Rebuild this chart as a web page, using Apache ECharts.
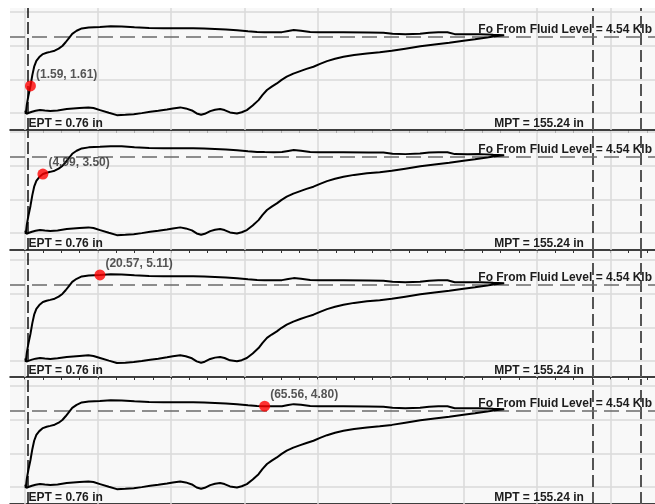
<!DOCTYPE html>
<html>
<head>
<meta charset="utf-8">
<script src="https://cdn.jsdelivr.net/npm/echarts@6/dist/echarts.min.js"></script>
<style>
  html, body { margin: 0; padding: 0; background: #ffffff; }
  #chart { width: 655px; height: 504px; }
</style>
</head>
<body>
<div id="chart"></div>
<script>
// Pump card: plunger position (in) vs. load (Klb), the same stroke in four frames.

// Upstroke, left to right
const upPosition = [0.3, 0.6, 1.0, 1.59, 2.1, 2.6, 3.2, 4.0, 4.99, 6.0, 7.0, 8.2, 9.3, 10.3, 11.2, 12.1, 13.0, 14.2, 15.6, 17.5,
  20.57, 23.5, 26.5, 30.0, 34.0, 38.0, 42.0, 46.0, 49.0, 52.0, 55.0, 58.0, 61.0, 63.5, 65.56, 68.0, 70.3, 72.0, 73.5, 75.5,
  78.0, 80.5, 87.0, 94.0, 98.0, 100.5, 104.0, 108.0, 110.5, 113.0, 115.5, 117.5, 121.0, 124.5, 128.0, 131.0];
const upLoad = [-0.05, 0.5, 1.0, 1.61, 2.25, 2.75, 3.1, 3.32, 3.50, 3.58, 3.63, 3.70, 3.82, 3.98, 4.20, 4.45, 4.70, 4.88, 5.02, 5.08,
  5.11, 5.15, 5.14, 5.09, 5.05, 5.03, 5.03, 5.03, 5.02, 4.99, 4.96, 4.91, 4.85, 4.81, 4.80, 4.79, 4.80, 4.87, 4.92, 4.88,
  4.81, 4.79, 4.79, 4.78, 4.77, 4.70, 4.68, 4.71, 4.77, 4.79, 4.79, 4.68, 4.67, 4.68, 4.64, 4.62];

// Downstroke, right to left
const downPosition = [131.0, 128.5, 126.3, 123.0, 119.9, 116.0, 112.0, 108.1, 104.0, 100.3, 97.0, 93.5, 90.0, 87.1, 84.8,
  82.6, 80.7, 78.9, 77.0, 75.3, 73.4, 71.6, 70.2, 68.9, 67.5, 66.2, 65.0, 63.9, 62.3, 60.7, 59.3, 58.0, 56.1, 54.6, 53.4, 52.0,
  50.7, 49.2, 48.2, 47.0, 45.7, 44.0, 42.5, 40.5, 38.9, 36.5, 34.3, 32.0, 29.8, 27.5, 25.2, 23.0, 20.6, 18.8, 17.4, 15.0, 11.5,
  9.0, 7.0, 5.5, 4.2, 3.0, 2.0, 1.2, 0.5, 0.2, 0.3];
const downLoad = [4.62, 4.55, 4.48, 4.38, 4.29, 4.17, 4.07, 3.96, 3.82, 3.69, 3.61, 3.54, 3.45, 3.34, 3.22,
  3.08, 2.92, 2.75, 2.62, 2.49, 2.34, 2.16, 1.97, 1.76, 1.57, 1.37, 1.08, 0.77, 0.45, 0.18, 0.05, -0.02, 0.04, 0.18, 0.24, 0.20,
  0.12, -0.04, -0.10, -0.02, 0.16, 0.28, 0.34, 0.28, 0.22, 0.14, 0.08, 0.00, -0.06, -0.10, -0.12, 0.02, 0.18, 0.30, 0.34, 0.30, 0.24,
  0.16, 0.12, 0.15, 0.18, 0.14, 0.08, 0.02, -0.04, 0.15, -0.05];

// Highlighted point in each frame
const markerPosition = [1.59, 4.99, 20.57, 65.56];
const markerLoad = [1.61, 3.50, 5.11, 4.80];

// Reference values
const foFluidLevel = 4.54;   // Klb
const eptPosition = 0.76;    // in
const mptPosition = 155.24;  // in
const strokeLimit = 168.2;   // in

// Grid and tick values
const positionGridLines = [0, 20, 40, 60, 80, 100, 120, 140, 160];
const loadGridLines = [0, 2, 4, 6];
const positionTicks = [0, 5, 10, 15, 20, 25, 30, 35, 40, 45, 50, 55, 60, 65, 70, 75, 80, 85, 90, 95, 100,
  105, 110, 115, 120, 125, 130, 135, 140, 145, 150, 155, 160, 165, 170];

// Frame layout
const X_MIN = -4, X_MAX = 172.2;
const panels = [
  { top: 8,   height: 122, yMin: -1.0,  yMax: 6.23 },
  { top: 131, height: 119, yMin: -1.0,  yMax: 6.05 },
  { top: 251, height: 126, yMin: -0.95, yMax: 6.53 },
  { top: 379, height: 125, yMin: -1.0,  yMax: 6.41 }
];

const FONT = 'Liberation Sans, Arial, sans-serif';
const textStyle = { fontFamily: FONT, fontSize: 12, fontWeight: 'bold', color: '#1c1c1c' };

const loop = [];
upPosition.forEach((x, i) => loop.push([x, upLoad[i]]));
downPosition.forEach((x, i) => loop.push([x, downLoad[i]]));

const grid = [], xAxis = [], yAxis = [], series = [];

panels.forEach((p, i) => {
  grid.push({
    left: 10, width: 645, top: p.top, height: p.height,
    show: true, backgroundColor: '#f8f8f8', borderWidth: 0, containLabel: false
  });
  xAxis.push({
    gridIndex: i, type: 'value', min: X_MIN, max: X_MAX,
    axisLine: { show: true, onZero: false, lineStyle: { color: '#000', width: 1.5 } },
    axisTick: { show: true, customValues: positionTicks, length: 3, lineStyle: { color: '#333', width: 1 } },
    axisLabel: { show: false },
    splitLine: { show: false }
  });
  yAxis.push({
    gridIndex: i, type: 'value', min: p.yMin, max: p.yMax, show: false,
    splitLine: { show: false }
  });

  // light grid
  series.push({
    type: 'line', xAxisIndex: i, yAxisIndex: i, data: [], z: 1, silent: true,
    markLine: {
      z: 1, silent: true, symbol: 'none', animation: false,
      label: { show: false },
      lineStyle: { color: '#dadada', width: 1.5, type: 'solid' },
      data: positionGridLines.map(v => ({ xAxis: v }))
        .concat(loadGridLines.map(v => ({ yAxis: v })))
    }
  });

  // reference lines and their captions
  series.push({
    type: 'line', xAxisIndex: i, yAxisIndex: i, data: [], z: 2, silent: true,
    markLine: {
      z: 2, silent: true, symbol: 'none', animation: false,
      label: { show: false },
      data: [
        { xAxis: eptPosition, lineStyle: { color: '#111', width: 1.5, type: [12, 4] } },
        { xAxis: mptPosition, lineStyle: { color: '#555', width: 2, type: [12, 5] } },
        { xAxis: strokeLimit, lineStyle: { color: '#555', width: 2, type: [12, 5] } },
        { yAxis: foFluidLevel, lineStyle: { color: '#6a6a6a', width: 1.5, type: [15, 7] } }
      ]
    },
    markPoint: {
      z: 6, silent: true, symbol: 'circle', symbolSize: 0, animation: false,
      data: [
        { coord: [eptPosition, p.yMin],
          label: { show: true, position: 'right', distance: 0, offset: [1, -6.5],
                   formatter: 'EPT = ' + eptPosition.toFixed(2) + ' in', ...textStyle } },
        { coord: [mptPosition, p.yMin],
          label: { show: true, position: 'left', distance: 0, offset: [-9, -6.5],
                   formatter: 'MPT = ' + mptPosition.toFixed(2) + ' in', ...textStyle } },
        { coord: [X_MAX, foFluidLevel],
          label: { show: true, position: 'left', distance: 0, offset: [-3, -7],
                   formatter: 'Fo From Fluid Level = ' + foFluidLevel.toFixed(2) + ' Klb', ...textStyle } }
      ]
    }
  });

  // the card
  series.push({
    type: 'line', xAxisIndex: i, yAxisIndex: i, z: 3, silent: true,
    data: loop, showSymbol: false, smooth: false, animation: false,
    lineStyle: { color: '#000', width: 2 }
  });

  // highlighted point
  series.push({
    type: 'scatter', xAxisIndex: i, yAxisIndex: i, z: 4, silent: true, animation: false,
    data: [[markerPosition[i], markerLoad[i]]],
    symbolSize: 11,
    itemStyle: { color: '#ff0000' },
    label: {
      show: true, position: 'right', distance: 0, offset: [0, -11.5],
      formatter: (d) => '(' + d.value[0].toFixed(2) + ', ' + d.value[1].toFixed(2) + ')',
      ...textStyle, color: '#2a2a2a'
    }
  });
});

const chart = echarts.init(document.getElementById('chart'), null, { renderer: 'canvas' });
chart.setOption({
  backgroundColor: '#ffffff',
  animation: false,
  grid, xAxis, yAxis, series
});
</script>
</body>
</html>
